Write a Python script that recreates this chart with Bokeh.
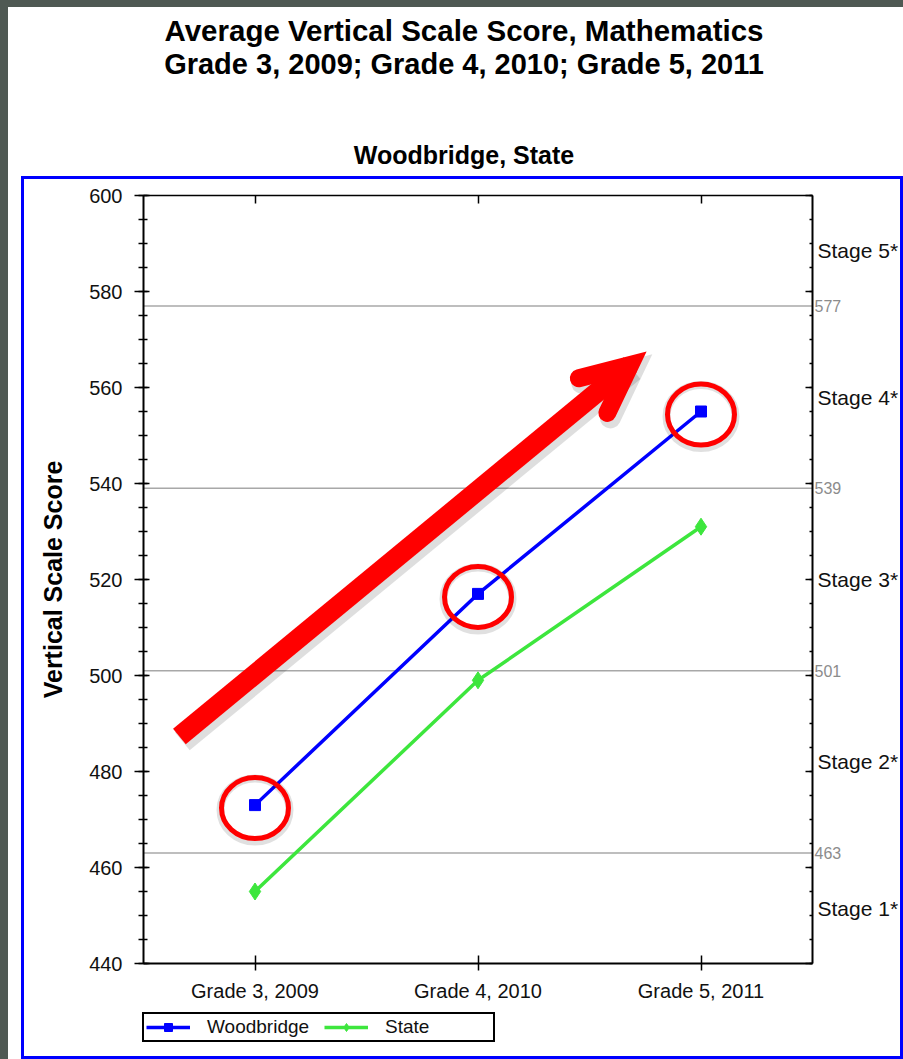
import math
from bokeh.plotting import figure
from bokeh.models import (Range1d, LinearAxis, FixedTicker, Legend, LegendItem, Label,
                          InlineStyleSheet)
from bokeh.embed import file_html
from bokeh.resources import INLINE

# ---------------- data ----------------
categories = ["Grade 3, 2009", "Grade 4, 2010", "Grade 5, 2011"]
woodbridge = [473, 517, 555]
state = [455, 499, 531]
stage_cuts = [463, 501, 539, 577]
stage_labels = ["Stage 1*", "Stage 2*", "Stage 3*", "Stage 4*", "Stage 5*"]
y_ticks = [440, 460, 480, 500, 520, 540, 560, 580, 600]
y_minor = list(range(440, 601, 5))
title_lines = ["Average Vertical Scale Score, Mathematics",
               "Grade 3, 2009; Grade 4, 2010; Grade 5, 2011"]
subtitle = "Woodbridge, State"
y_label = "Vertical Scale Score"

# ---------------- layout ----------------
FONT = "Liberation Sans"
W, H = 903, 1059
FL, FR, FT, FB = 143, 812, 195, 963          # plotting area (px)
Y_MIN, Y_MAX = 440, 600
X_MIN, X_MAX = 0.5, 3.5
x_pos = [1, 2, 3]
XPX = (FR - FL) / (X_MAX - X_MIN)            # px per x unit
YPX = (FB - FT) / (Y_MAX - Y_MIN)            # px per y unit


def px(xd):
    return FL + (xd - X_MIN) * XPX


def py(yd):
    return FB - (yd - Y_MIN) * YPX


def dx(fx):
    return X_MIN + (fx - FL) / XPX


def dy(fy):
    return Y_MIN + (FB - fy) / YPX


# the canvas is one big frame; axes are pinned at the plotting-area edges
p = figure(frame_width=W, frame_height=H,
           x_range=Range1d(dx(0), dx(W)), y_range=Range1d(dy(H), dy(0)),
           output_backend="svg", toolbar_location=None, title=None,
           min_border=0, x_axis_location=None, y_axis_location=None)
p.grid.visible = False
p.outline_line_color = None
p.background_fill_color = "white"
p.border_fill_color = "white"

TICK_COLOR = "#111111"

# bottom axis
xa = LinearAxis(ticker=FixedTicker(ticks=x_pos), fixed_location=Y_MIN, bounds=(X_MIN, X_MAX))
xa.major_label_overrides = {x: c for x, c in zip(x_pos, categories)}
xa.major_tick_in = 8
xa.major_tick_out = 7
xa.minor_tick_in = 0
xa.minor_tick_out = 0
xa.axis_line_width = 2
xa.major_tick_line_width = 1.5
xa.major_label_standoff = 9
xa.major_label_text_font = FONT
xa.major_label_text_font_size = "20px"
xa.major_label_text_color = TICK_COLOR
p.add_layout(xa, "below")

# top axis: category ticks only
ta = LinearAxis(ticker=FixedTicker(ticks=[], minor_ticks=x_pos), fixed_location=Y_MAX,
                bounds=(X_MIN, X_MAX))
ta.major_tick_in = 0
ta.major_tick_out = 0
ta.minor_tick_in = 8
ta.minor_tick_out = 0
ta.minor_tick_line_width = 1.5
ta.axis_line_width = 1.5
p.add_layout(ta, "above")

# left axis
ya = LinearAxis(ticker=FixedTicker(ticks=y_ticks, minor_ticks=y_minor), fixed_location=X_MIN,
                bounds=(Y_MIN, Y_MAX))
ya.major_tick_in = 6
ya.major_tick_out = 9
ya.minor_tick_in = 4
ya.minor_tick_out = 5
ya.axis_line_width = 2
ya.major_tick_line_width = 1.5
ya.minor_tick_line_width = 1.5
ya.major_label_standoff = 12
ya.major_label_text_font = FONT
ya.major_label_text_font_size = "20px"
ya.major_label_text_color = TICK_COLOR
ya.axis_label = y_label
ya.axis_label_text_font = FONT
ya.axis_label_text_font_size = "25px"
ya.axis_label_text_font_style = "bold"
ya.axis_label_text_color = "black"
ya.axis_label_standoff = 19
p.add_layout(ya, "left")

# right axis 1: stage cut values (grey) + minor ticks
r1 = LinearAxis(ticker=FixedTicker(ticks=stage_cuts, minor_ticks=y_minor), fixed_location=X_MAX,
                bounds=(Y_MIN, Y_MAX))
r1.major_tick_in = 0
r1.major_tick_out = 0
r1.minor_tick_in = 3
r1.minor_tick_out = 0
r1.axis_line_width = 2
r1.minor_tick_line_width = 1.5
r1.major_label_standoff = 2
r1.major_label_text_font = FONT
r1.major_label_text_font_size = "16px"
r1.major_label_text_color = "#8c8c8c"
p.add_layout(r1, "right")

# right axis 2: stage names
stage_bounds = [Y_MIN] + stage_cuts + [Y_MAX]
stage_mids = [(stage_bounds[i] + stage_bounds[i + 1]) / 2 for i in range(len(stage_labels))]
r2 = LinearAxis(ticker=FixedTicker(ticks=stage_mids), fixed_location=X_MAX)
r2.major_label_overrides = {m: s for m, s in zip(stage_mids, stage_labels)}
r2.major_tick_in = 0
r2.major_tick_out = 0
r2.minor_tick_in = 0
r2.minor_tick_out = 0
r2.axis_line_color = None
r2.major_tick_line_color = None
r2.minor_tick_line_color = None
r2.major_label_standoff = 5
r2.major_label_text_font = FONT
r2.major_label_text_font_size = "21px"
r2.major_label_text_color = TICK_COLOR
p.add_layout(r2, "right")

# stage cut lines
p.segment(x0=[X_MIN] * len(stage_cuts), x1=[X_MAX] * len(stage_cuts),
          y0=stage_cuts, y1=stage_cuts, line_color="#a8a8a8", line_width=1.5)

# long inward ticks of the right axis at the major values
tick_len = 7 / XPX
p.segment(x0=[X_MAX - tick_len] * len(y_ticks), x1=[X_MAX] * len(y_ticks),
          y0=y_ticks, y1=y_ticks, line_color="black", line_width=1.5)

# data
BLUE = "#0000ff"
GREEN = "#3de63d"
l1 = p.line(x_pos, woodbridge, line_color=BLUE, line_width=3.5)
s1 = p.scatter(x_pos, woodbridge, marker="square", size=11, fill_color=BLUE, line_color=BLUE)
l2 = p.line(x_pos, state, line_color=GREEN, line_width=3.5)
s2 = p.scatter(x_pos, state, marker="diamond", size=17, fill_color=GREEN, line_color=GREEN)

# legend below the category labels (screen px from the bottom-left corner)
legend = Legend(items=[LegendItem(label="Woodbridge", renderers=[l1, s1]),
                       LegendItem(label="State", renderers=[l2, s2])],
                orientation="horizontal", location=(142, H - 1042), margin=0,
                padding=2, spacing=11, glyph_width=44, glyph_height=20,
                label_standoff=17, label_width=106,
                label_text_font=FONT, label_text_font_size="19px",
                label_text_color=TICK_COLOR,
                border_line_color="black", border_line_alpha=1.0, border_line_width=2,
                background_fill_color="white", background_fill_alpha=1)
p.add_layout(legend)

# red highlight circles (with soft shadow)
p.ellipse(x=x_pos, y=[v - 5 / YPX for v in woodbridge], width=69, height=63,
          width_units="screen", height_units="screen", fill_alpha=0,
          line_color="black", line_alpha=0.12, line_width=8)
p.ellipse(x=x_pos, y=[v - 3 / YPX for v in woodbridge], width=67, height=61,
          width_units="screen", height_units="screen", fill_alpha=0,
          line_color="#ff0000", line_width=5)

# red arrow annotation
ARROW_TAIL = (0.661, 487.3)
ARROW_TIP = (2.756, 567.5)
tx, ty = px(ARROW_TAIL[0]), py(ARROW_TAIL[1])
hx, hy = px(ARROW_TIP[0]), py(ARROW_TIP[1])
L = math.hypot(hx - tx, hy - ty)
ux, uy = (hx - tx) / L, (hy - ty) / L
th = math.radians(25)
w_head, w_shaft, arm = 18, 20, 53
e = (w_head / 2) / math.sin(th)
jx, jy = hx - e * ux, hy - e * uy
bx, by = -ux, -uy


def rot(vx, vy, a):
    return vx * math.cos(a) - vy * math.sin(a), vx * math.sin(a) + vy * math.cos(a)


r_a = rot(bx, by, th)
r_b = rot(bx, by, -th)
head_px = [(jx + arm * r_a[0], jy + arm * r_a[1]), (jx, jy), (jx + arm * r_b[0], jy + arm * r_b[1])]
shaft_px = [(tx, ty), (jx, jy)]

for off, col, alpha, extra in [((3, 5), "black", 0.13, 3), ((0, 0), "#ff0000", 1.0, 0)]:
    p.line([dx(x + off[0]) for x, _ in shaft_px], [dy(y + off[1]) for _, y in shaft_px],
           line_color=col, line_alpha=alpha, line_width=w_shaft + extra, line_cap="butt")
    p.line([dx(x + off[0]) for x, _ in head_px], [dy(y + off[1]) for _, y in head_px],
           line_color=col, line_alpha=alpha, line_width=w_head + extra, line_cap="round",
           line_join="miter")

# titles
TITLE_CX = 463.5
for text, cy, size in [(title_lines[0], 30, "29.5px"), (title_lines[1], 63, "29px"),
                       (subtitle, 154, "25px")]:
    p.add_layout(Label(x=dx(TITLE_CX), y=dy(cy), text=text, text_font=FONT,
                       text_font_size=size, text_font_style="bold", text_color="black",
                       text_align="center", text_baseline="middle"))

# page frame decorations (dark slide edge, blue chart border)
p.stylesheets = [InlineStyleSheet(css="""
:host { position: relative; }
:host::before { content: ""; position: absolute; left: 0; top: 0; width: 903px; height: 1059px;
  box-sizing: border-box; border-left: 8px solid #4f5953; border-top: 7px solid #4f5953;
  pointer-events: none; z-index: 5; }
:host::after { content: ""; position: absolute; left: 21px; top: 176px; width: 882px; height: 883px;
  box-sizing: border-box; border: 3px solid #0000ff; pointer-events: none; z-index: 6; }
""")]

open("out.html", "w").write(file_html(p, INLINE))
